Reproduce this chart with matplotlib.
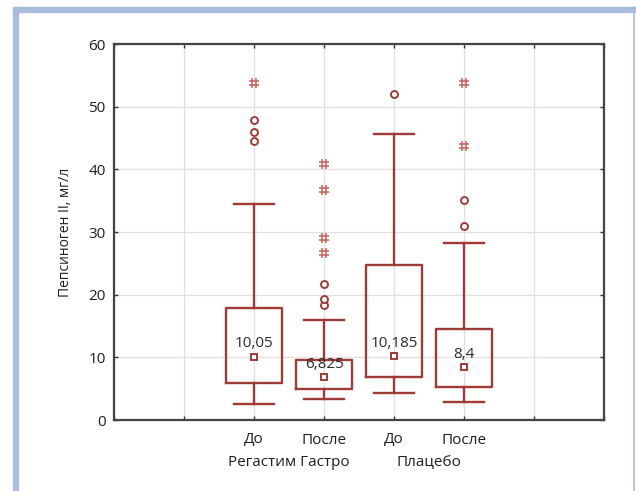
import matplotlib
matplotlib.use("Agg")
import matplotlib.pyplot as plt
from matplotlib.path import Path
from matplotlib.patches import Rectangle
from matplotlib.lines import Line2D

plt.rcParams['font.family'] = ['Open Sans', 'DejaVu Sans']

# ---- data ----
positions = [2, 3, 4, 5]
tick_labels = ["До", "После", "До", "После"]
groups = ["Регастим Гастро", "Плацебо"]
group_pos = [2.5, 4.5]

medians = [10.05, 6.825, 10.185, 8.4]
median_text = ["10,05", "6,825", "10,185", "8,4"]
q1 = [5.85, 4.95, 6.8, 5.3]
q3 = [17.8, 9.6, 24.7, 14.5]
whis_lo = [2.55, 3.3, 4.35, 2.9]
whis_hi = [34.4, 15.9, 45.7, 28.3]

# outliers (circles) and extremes (hash markers)
outliers = [[44.5, 46.0, 47.8], [18.3, 19.25, 21.7], [52.1], [31.0, 35.1]]
extremes = [[53.7], [26.7, 29.1, 36.7, 40.8], [], [43.8, 53.7]]

BOX = "#9e3b36"
EXT = "#c8645e"
TXT = "#1e1e1e"

fig = plt.figure(figsize=(6.36, 4.91), dpi=100)
W, H = 636.0, 491.0

# light blue frame (left and top band, thin right line)
blue = "#a9bcdd"
fig.patches.append(Rectangle((12.7 / W, 0), 5.6 / W, 1 - 7.3 / H, transform=fig.transFigure,
                             color=blue, zorder=0))
fig.patches.append(Rectangle((12.7 / W, 1 - 12.0 / H), (634.5 - 12.7) / W, 4.7 / H,
                             transform=fig.transFigure, color=blue, zorder=0))
fig.lines.append(Line2D([634 / W, 634 / W], [0, 1 - 7.3 / H], transform=fig.transFigure,
                        color=blue, lw=1.2))

ax = fig.add_axes([114 / W, 1 - 420 / H, (604 - 114) / W, (420 - 44) / H])

stats = []
for i in range(len(positions)):
    stats.append({"med": medians[i], "q1": q1[i], "q3": q3[i],
                  "whislo": whis_lo[i], "whishi": whis_hi[i], "fliers": []})

lp = dict(color=BOX, lw=1.7)
ax.bxp(stats, positions=positions, widths=0.79, capwidths=0.58, showfliers=False,
       boxprops=lp, whiskerprops=lp, capprops=lp,
       medianprops=dict(linestyle="none"), manage_ticks=False, zorder=3)

# median markers + labels
ax.plot(positions, medians, ls="none", marker="s", ms=5, mfc="white", mec=BOX, mew=1.4, zorder=4)
for x, m, t in zip(positions, medians, median_text):
    ax.annotate(t, (x, m), xytext=(0, 4), textcoords="offset points", ha="center",
                va="bottom", fontsize=11, color="#2a2a2a", zorder=5)

# hash-shaped marker for extremes
hash_verts = [(-0.5, -1), (-0.5, 1), (0.5, -1), (0.5, 1),
              (-1, -0.5), (1, -0.5), (-1, 0.5), (1, 0.5)]
hash_codes = [Path.MOVETO, Path.LINETO] * 4
hash_marker = Path(hash_verts, hash_codes)

for x, vals in zip(positions, outliers):
    ax.plot([x] * len(vals), vals, ls="none", marker="o", ms=5, mfc="white",
            mec=BOX, mew=1.4, zorder=4)
for x, vals in zip(positions, extremes):
    if vals:
        ax.plot([x] * len(vals), vals, ls="none", marker=hash_marker, ms=7,
                mfc="none", mec=EXT, mew=1.1, zorder=4)

ax.set_xlim(0, 7)
ax.set_ylim(0, 60)
ax.set_xticks(range(0, 8))
ax.set_xticklabels(["", ""] + tick_labels + ["", ""])
ax.set_yticks(range(0, 61, 10))
ax.grid(True, color="#e4dede", lw=0.9, zorder=0)
ax.set_axisbelow(True)
ax.tick_params(direction="in", length=3, width=1, color="#333333", top=True, right=True,
               labelsize=11, labelcolor=TXT)
ax.tick_params(axis="x", pad=9)
ax.tick_params(axis="y", pad=6)
for s in ax.spines.values():
    s.set_color("#444444")
    s.set_linewidth(1.6)

for gx, g in zip(group_pos, groups):
    ax.text(gx, -0.114, g, transform=ax.get_xaxis_transform(), ha="center", va="center",
            fontsize=11, color=TXT)

ax.set_ylabel("Пепсиноген II, мг/л", fontsize=10, color=TXT, labelpad=11)

fig.savefig("out.png", dpi=100)
